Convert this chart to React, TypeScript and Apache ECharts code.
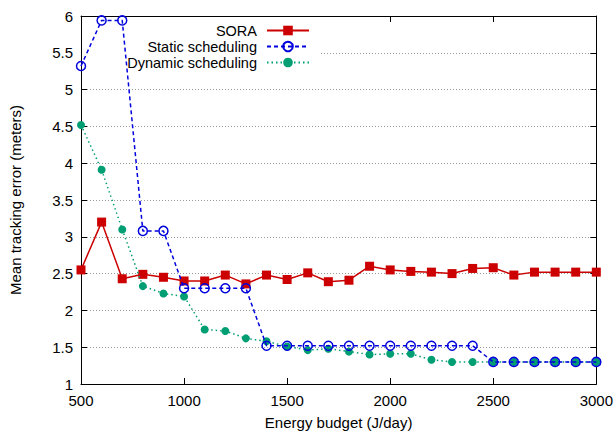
import React, { useEffect, useRef } from "react";
import * as echarts from "echarts";

const energy = [500, 600, 700, 800, 900, 1000, 1100, 1200, 1300, 1400, 1500, 1600, 1700, 1800, 1900, 2000, 2100, 2200, 2300, 2400, 2500, 2600, 2700, 2800, 2900, 3000];
const sora = [2.55, 3.2, 2.43, 2.49, 2.45, 2.4, 2.4, 2.48, 2.36, 2.48, 2.42, 2.51, 2.39, 2.41, 2.6, 2.55, 2.53, 2.52, 2.5, 2.57, 2.58, 2.48, 2.52, 2.52, 2.52, 2.52];
const staticSched = [5.32, 5.94, 5.94, 3.08, 3.08, 2.3, 2.3, 2.3, 2.3, 1.52, 1.52, 1.52, 1.52, 1.52, 1.52, 1.52, 1.52, 1.52, 1.52, 1.52, 1.3, 1.3, 1.3, 1.3, 1.3, 1.3];
const dynamicSched = [4.52, 3.91, 3.1, 2.33, 2.23, 2.19, 1.74, 1.72, 1.62, 1.58, 1.51, 1.46, 1.48, 1.44, 1.4, 1.41, 1.41, 1.33, 1.3, 1.3, 1.3, 1.3, 1.3, 1.3, 1.3, 1.3];
const seriesNames = ["SORA", "Static scheduling", "Dynamic scheduling"];

const FONT = "Liberation Sans";

export default function App() {
  const ref = useRef<HTMLDivElement>(null);
  useEffect(() => {
    document.body.style.margin = "0";
    const chart = echarts.init(ref.current!, undefined, { renderer: "svg" });
    const pairs = (ys: number[]) => energy.map((x, i) => [x, ys[i]]);
    const axisCommon = {
      type: "value" as const,
      axisLine: { show: true, lineStyle: { color: "#000", width: 1 } },
      axisTick: { show: true, inside: true, length: 6, lineStyle: { color: "#000" } },
    };
    chart.setOption({
      animation: false,
      backgroundColor: "#fff",
      textStyle: { fontFamily: FONT },
      grid: { left: 81, right: 19, top: 16, bottom: 50 },
      legend: {
        data: seriesNames,
        orient: "vertical",
        align: "right",
        right: 306,
        top: 23,
        padding: 0,
        itemGap: 1,
        itemWidth: 42,
        itemHeight: 12,
        textStyle: { fontSize: 14.5, fontFamily: FONT, color: "#000", lineHeight: 14, padding: [0, 5, 0, 0] },
      },
      graphic: [
        { type: "rect", z: 1, shape: { x: 82, y: 17, width: 238, height: 50 }, style: { fill: "#fff" }, silent: true },
      ],
      xAxis: [
        {
          ...axisCommon,
          min: 500,
          max: 3000,
          interval: 500,
          position: "bottom",
          name: "Energy budget (J/day)",
          nameLocation: "middle",
          nameGap: 31,
          nameTextStyle: { fontSize: 15, fontFamily: FONT, color: "#000" },
          axisLabel: { fontSize: 15, fontFamily: FONT, color: "#000", margin: 9, formatter: (v: number) => String(v) },
          splitLine: { show: false },
        },
        {
          ...axisCommon,
          min: 500,
          max: 3000,
          interval: 500,
          position: "top",
          axisLabel: { show: false },
          splitLine: { show: false },
        },
      ],
      yAxis: [
        {
          ...axisCommon,
          min: 1,
          max: 6,
          interval: 0.5,
          position: "left",
          name: "Mean tracking error (meters)",
          nameLocation: "middle",
          nameGap: 58,
          nameTextStyle: { fontSize: 15, fontFamily: FONT, color: "#000" },
          axisLabel: { fontSize: 15, fontFamily: FONT, color: "#000", margin: 8, formatter: (v: number) => String(v) },
          splitLine: { show: true, lineStyle: { color: "#999", width: 1, type: [1, 2] } },
        },
        {
          ...axisCommon,
          min: 1,
          max: 6,
          interval: 0.5,
          position: "right",
          axisLabel: { show: false },
          splitLine: { show: false },
        },
      ],
      series: [
        {
          name: seriesNames[0],
          type: "line",
          data: pairs(sora),
          symbol: "rect",
          symbolSize: 9,
          lineStyle: { color: "#cc0000", width: 1.5, type: "solid" },
          itemStyle: { color: "#cc0000" },
          z: 2,
        },
        {
          name: seriesNames[1],
          type: "line",
          data: pairs(staticSched),
          symbol: "circle",
          symbolSize: 9,
          lineStyle: { color: "#0000dd", width: 1.5, type: [4, 3] },
          itemStyle: { color: "rgba(0,0,0,0)", borderColor: "#0000dd", borderWidth: 1.5 },
          z: 4,
        },
        {
          name: seriesNames[2],
          type: "line",
          data: pairs(dynamicSched),
          symbol: "circle",
          symbolSize: 8,
          lineStyle: { color: "#009e73", width: 1.5, type: [1.5, 3] },
          itemStyle: { color: "#009e73" },
          z: 3,
        },
      ],
    });
    return () => chart.dispose();
  }, []);
  return <div ref={ref} style={{ width: 616, height: 435 }} />;
}
